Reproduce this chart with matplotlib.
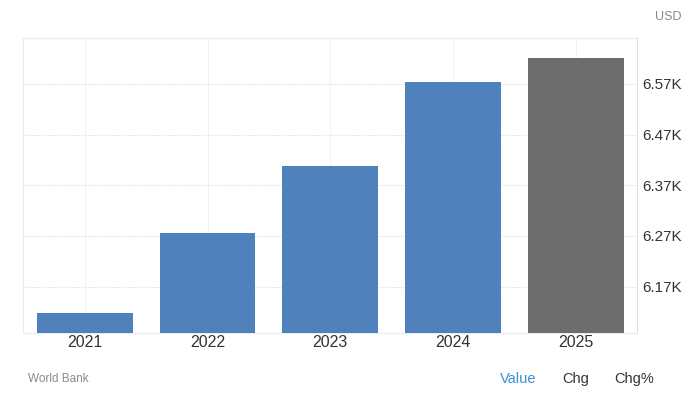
import matplotlib.pyplot as plt
from matplotlib.ticker import FixedLocator, FuncFormatter

plt.rcParams['font.family'] = ['Liberation Sans', 'DejaVu Sans']

# values (USD)
years = ['2021', '2022', '2023', '2024', '2025']
values = [6118, 6275, 6408, 6573, 6621]
bar_colors = ['#4f81bc', '#4f81bc', '#4f81bc', '#4f81bc', '#6d6d6d']
y_ticks = [6170, 6270, 6370, 6470, 6570]

fig = plt.figure(figsize=(6.95, 3.97), dpi=100)
ax = fig.add_axes([0.0338, 0.162, 0.883, 0.743])

x = range(len(years))
ax.bar(x, values, width=0.78, color=bar_colors, zorder=3)

ax.set_xlim(-0.5, len(years) - 0.5)
ax.set_ylim(6079, 6661)

ax.set_xticks(list(x))
ax.set_xticklabels(years, fontsize=11.5, color='#333333')
ax.yaxis.tick_right()
ax.yaxis.set_major_locator(FixedLocator(y_ticks))
ax.yaxis.set_major_formatter(FuncFormatter(lambda v, p: f'{v / 1000:.2f}K'))
ax.tick_params(axis='y', length=0, pad=4, labelsize=11, labelcolor='#333333')
ax.tick_params(axis='x', length=0, pad=2)

# faint dotted horizontals, fainter verticals
ax.grid(axis='y', color='#e0e0e0', linestyle=(0, (1, 1)), linewidth=0.8, zorder=0)
ax.grid(axis='x', color='#f2f2f2', linestyle='-', linewidth=0.8, zorder=0)
for side in ['top', 'left', 'bottom']:
    ax.spines[side].set_color('#ebebeb')
ax.spines['right'].set_color('#e0e0e0')

fig.text(0.962, 0.957, 'USD', fontsize=9, color='#8a8a8a', ha='center', va='center')
fig.text(0.040, 0.045, 'World Bank', fontsize=8.5, color='#8a8a8a', ha='left', va='center')
fig.text(0.746, 0.045, 'Value', fontsize=10.5, color='#3d8fd1', ha='center', va='center')
fig.text(0.829, 0.045, 'Chg', fontsize=10.5, color='#333333', ha='center', va='center')
fig.text(0.912, 0.045, 'Chg%', fontsize=10.5, color='#333333', ha='center', va='center')

fig.savefig('out.png', dpi=100)
